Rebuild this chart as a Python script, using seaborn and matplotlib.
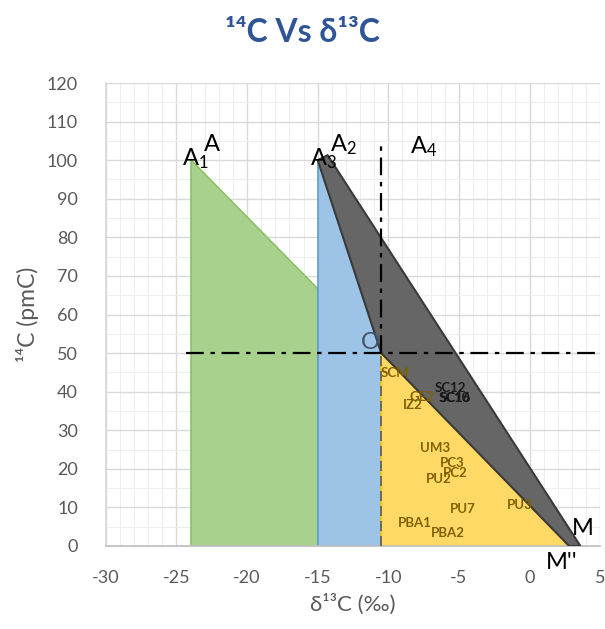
import matplotlib
matplotlib.use("Agg")
import matplotlib.pyplot as plt
import seaborn as sns
from matplotlib.ticker import MultipleLocator

# Region polygons (delta13C, 14C)
green_x = [-24, -24, -15, -15]
green_y = [100, 0, 0, 66.7]
blue_x = [-15, -15, -10.5, -10.5]
blue_y = [100, 0, 0, 50]
yellow_x = [-10.5, -10.5, 2.8]
yellow_y = [50, 0, 0]
gray_x = [-15, -14.3, 3.6, 2.8, -10.5]
gray_y = [100, 101.3, 0, 0, 50]

# Sample labels
samples = ["SCM", "SC12", "SC10", "SC16", "GE2", "IZ2", "UM3", "PC3", "PC2",
           "PU2", "PU7", "PU3", "PBA1", "PBA2"]
d13c = [-9.5, -5.6, -5.3, -5.25, -7.6, -8.3, -6.7, -5.5, -5.3, -6.4, -4.7, -0.7, -8.1, -5.8]
c14 = [44.8, 40.9, 38.3, 38.3, 38.6, 36.5, 25.4, 21.5, 18.9, 17.4, 9.6, 10.6, 6.0, 3.4]
dark_labels = ["SC12", "SC10", "SC16"]

# End-member point labels
pt_text = ["A", "A$_1$", "A$_2$", "A$_3$", "A$_4$", "O", "M", "M''"]
pt_x = [-22.5, -23.7, -13.2, -14.6, -7.5, -11.3, 3.8, 2.3]
pt_y = [104, 100.5, 104, 100.5, 103.5, 52.8, 4.6, -4.2]

# reference lines
hline_x = [-24.3, 5]
hline_y = [50, 50]
vline_x = [-10.5, -10.5]
vline_y = [50, 104]
vdash_x = [-10.5, -10.5]
vdash_y = [0, 50]

sns.set_theme(style="white")
plt.rcParams["font.family"] = ["Lato", "DejaVu Sans"]
plt.rcParams["mathtext.fontset"] = "custom"
plt.rcParams["mathtext.rm"] = "Lato"
plt.rcParams["mathtext.it"] = "Lato"
plt.rcParams["axes.unicode_minus"] = False

fig = plt.figure(figsize=(6.05, 6.29), dpi=100)
ax = fig.add_axes([0.175, 0.132, 0.817, 0.736])

ax.fill(green_x, green_y, facecolor="#a9d18e", edgecolor="#8cc168", lw=1.2, zorder=2)
ax.fill(blue_x, blue_y, facecolor="#9dc3e6", edgecolor="#5b9bd5", lw=1.2, zorder=2)
ax.fill(yellow_x, yellow_y, facecolor="#ffd966", edgecolor="#ffc000", lw=1.2, zorder=2)
ax.fill(gray_x, gray_y, facecolor="#666666", edgecolor="#3a3a3a", lw=1.5, zorder=3)

sns.lineplot(x=hline_x, y=hline_y, color="black", lw=1.6, ax=ax, zorder=4,
             estimator=None, sort=False)
ax.lines[-1].set_dashes([8, 3, 2, 3])
sns.lineplot(x=vline_x, y=vline_y, color="black", lw=1.6, ax=ax, zorder=4,
             estimator=None, sort=False)
ax.lines[-1].set_dashes([8, 3, 2, 3])
sns.lineplot(x=vdash_x, y=vdash_y, color="#5a5a5a", lw=1.2, ax=ax, zorder=4,
             estimator=None, sort=False)
ax.lines[-1].set_dashes([6, 3])

for name, x, y in zip(samples, d13c, c14):
    col = "#1a1a1a" if name in dark_labels else "#806000"
    ax.text(x, y, name, fontsize=9.5, fontweight="bold", color=col,
            ha="center", va="center", zorder=5)

for t, x, y in zip(pt_text, pt_x, pt_y):
    ax.text(x, y, t, fontsize=17, color="#44546a" if t == "O" else "black",
            ha="center", va="center", zorder=6)

ax.set_xlim(-30, 5)
ax.set_ylim(0, 120)
ax.xaxis.set_major_locator(MultipleLocator(5))
ax.xaxis.set_minor_locator(MultipleLocator(1))
ax.yaxis.set_major_locator(MultipleLocator(10))
ax.yaxis.set_minor_locator(MultipleLocator(5))
ax.grid(which="major", color="#d9d9d9", lw=1.0, zorder=0)
ax.grid(which="minor", color="#eeeeee", lw=0.8, zorder=0)
ax.set_axisbelow(True)
for s in ["top", "right"]:
    ax.spines[s].set_visible(False)
ax.spines["bottom"].set_color("#bfbfbf")
ax.spines["left"].set_color("#d9d9d9")
ax.tick_params(axis="both", which="both", length=0, labelsize=13,
               labelcolor="#595959")
ax.tick_params(axis="x", pad=17)
ax.tick_params(axis="y", pad=20)

ax.set_xlabel("δ¹³C (‰)", fontsize=16, color="#595959", labelpad=6)
ax.set_ylabel("¹⁴C (pmC)", fontsize=16.5, color="#595959", labelpad=6)
fig.text(0.5, 0.948, "¹⁴C Vs δ¹³C", fontsize=23, fontweight="bold",
         color="#2f5597", ha="center", va="center")

fig.savefig("out.png", dpi=100)
